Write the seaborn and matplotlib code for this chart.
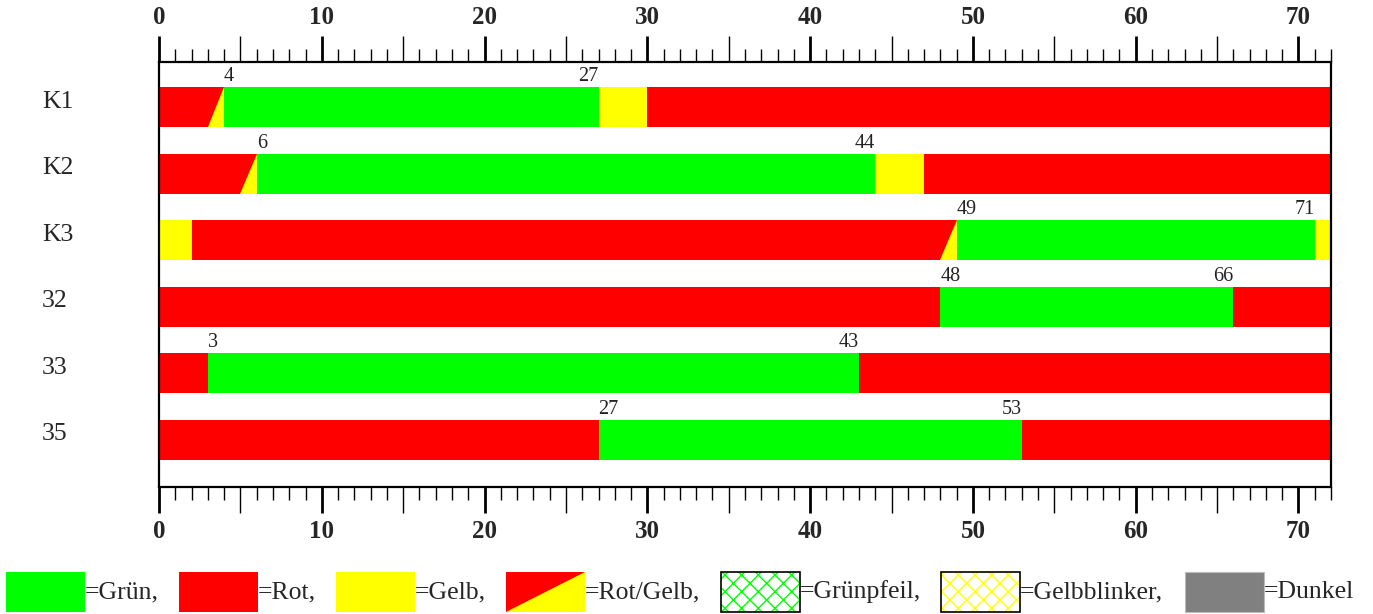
import matplotlib
matplotlib.use("Agg")
import matplotlib.pyplot as plt
import matplotlib.transforms as mtransforms
import seaborn as sns
import pandas as pd
from matplotlib.patches import Polygon, Rectangle

# ---------------- data ----------------
rows = ["K1", "K2", "K3", "32", "33", "35"]
cycle_time = 72

k1_states = ["R", "RG", "G", "Y", "R"]
k1_bounds = [0, 3, 4, 27, 30, 72]
k2_states = ["R", "RG", "G", "Y", "R"]
k2_bounds = [0, 5, 6, 44, 47, 72]
k3_states = ["Y", "R", "RG", "G", "Y"]
k3_bounds = [0, 2, 48, 49, 71, 72]
s32_states = ["R", "G", "R"]
s32_bounds = [0, 48, 66, 72]
s33_states = ["R", "G", "R"]
s33_bounds = [0, 3, 43, 72]
s35_states = ["R", "G", "R"]
s35_bounds = [0, 27, 53, 72]

green_start = [4, 6, 49, 48, 3, 27]
green_end = [27, 44, 71, 66, 43, 53]

legend_keys = ["G", "R", "Y", "RG", "GP", "GB", "D"]
legend_labels = ["=Grün,", "=Rot,", "=Gelb,", "=Rot/Gelb,", "=Grünpfeil,",
                 "=Gelbblinker,", "=Dunkel"]

# ---------------- style ----------------
colors = {"G": "#00FF00", "R": "#FF0000", "Y": "#FFFF00", "RG": "#FF0000",
          "D": "#808080"}

sns.set_style("white")
plt.rcParams["font.family"] = ["Liberation Serif", "DejaVu Serif"]
plt.rcParams["hatch.linewidth"] = 1.0

W, H = 1373, 614
fig = plt.figure(figsize=(W / 100, H / 100), dpi=100)
ax = fig.add_axes([159 / W, 1 - 487 / H, (1331 - 159) / W, (487 - 62) / H])

all_states = [k1_states, k2_states, k3_states, s32_states, s33_states, s35_states]
all_bounds = [k1_bounds, k2_bounds, k3_bounds, s32_bounds, s33_bounds, s35_bounds]

bar_h = 0.6
max_seg = max(len(s) for s in all_states)
for k in range(max_seg - 1, -1, -1):
    recs = []
    for r, st, bd in zip(rows, all_states, all_bounds):
        if len(st) > k:
            recs.append({"row": r, "end": bd[k + 1], "state": st[k]})
    df = pd.DataFrame(recs)
    pal = {rec["row"]: colors[rec["state"]] for rec in recs}
    sns.barplot(data=df, x="end", y="row", hue="row", palette=pal, order=rows,
                hue_order=list(df["row"]), orient="h", width=bar_h,
                saturation=1, legend=False, dodge=False, errorbar=None,
                linewidth=0, ax=ax)

# Rot/Gelb triangles
for i, (st, bd) in enumerate(zip(all_states, all_bounds)):
    for j, s in enumerate(st):
        if s == "RG":
            a, b = bd[j], bd[j + 1]
            ax.add_patch(Polygon([(a, i + bar_h / 2), (b, i + bar_h / 2),
                                  (b, i - bar_h / 2)], closed=True,
                                 facecolor=colors["Y"], edgecolor="none",
                                 zorder=3))

# green labels
for i, (gs, ge) in enumerate(zip(green_start, green_end)):
    ax.text(gs, i - bar_h / 2 - 0.09, str(gs), ha="left", va="baseline",
            fontsize=14.5, color="#222222")
    ax.text(ge, i - bar_h / 2 - 0.09, str(ge), ha="right", va="baseline",
            fontsize=14.5, color="#222222")

ax.set_xlim(0, cycle_time)
ax.set_ylim(5.71, -0.68)
ax.set_xlabel("")
ax.set_ylabel("")

for sp in ax.spines.values():
    sp.set_visible(True)
    sp.set_color("black")
    sp.set_linewidth(1.6)

# x ticks
major = list(range(0, cycle_time + 1, 10))
ax.set_xticks(major)
ax.set_xticklabels([str(v) for v in major], fontweight="bold", fontsize=18)
ax.set_xticks([v for v in range(0, cycle_time + 1) if v % 5 != 0], minor=True)
ax.tick_params(axis="x", which="major", top=True, bottom=True, labeltop=True,
               labelbottom=True, direction="out", length=18.7, width=2,
               color="black", pad=5)
ax.tick_params(axis="x", which="minor", top=True, bottom=True, direction="out",
               length=9.4, width=1, color="black")

fives = [v for v in range(5, cycle_time + 1, 10)]
for loc in ("top", "bottom"):
    sec = ax.secondary_xaxis(loc)
    sec.set_xticks(fives)
    sec.set_xticklabels([])
    sec.tick_params(direction="out", length=18.7, width=1, color="black")
    for sp in sec.spines.values():
        sp.set_visible(False)

# row labels
ax.set_yticks([])
lab_tr = mtransforms.blended_transform_factory(fig.transFigure, ax.transData)
for i, r in enumerate(rows):
    ax.text(42 / W, i - 0.08, r, transform=lab_tr, ha="left", va="center",
            fontsize=18.5, clip_on=False)

# ---------------- legend ----------------
lx = [6, 179, 336, 506, 721, 941, 1185]
pw, y0, y1 = 79, 572, 612
fy0, fy1 = 1 - y1 / H, 1 - y0 / H
fh = fy1 - fy0
for key, x, lab in zip(legend_keys, lx, legend_labels):
    fx0 = x / W
    fw = pw / W
    if key in ("G", "R", "Y"):
        fig.add_artist(Rectangle((fx0, fy0), fw, fh, transform=fig.transFigure,
                                 facecolor=colors[key], edgecolor="none"))
    elif key == "RG":
        fig.add_artist(Rectangle((fx0, fy0), fw, fh, transform=fig.transFigure,
                                 facecolor=colors["R"], edgecolor="none"))
        fig.add_artist(Polygon([(fx0, fy0), (fx0 + fw, fy0), (fx0 + fw, fy1)],
                               closed=True, transform=fig.transFigure,
                               facecolor=colors["Y"], edgecolor="none"))
    elif key in ("GP", "GB"):
        hc = colors["G"] if key == "GP" else colors["Y"]
        fig.add_artist(Rectangle((fx0, fy0), fw, fh, transform=fig.transFigure,
                                 facecolor="white", edgecolor=hc, hatch="xx",
                                 linewidth=0))
        fig.add_artist(Rectangle((fx0, fy0), fw, fh, transform=fig.transFigure,
                                 facecolor="none", edgecolor="black",
                                 linewidth=1.2))
    else:
        fig.add_artist(Rectangle((fx0, fy0), fw, fh, transform=fig.transFigure,
                                 facecolor=colors["D"], edgecolor="#bbbbbb",
                                 linewidth=0.8))
    fig.text((x + pw) / W, 1 - 592 / H, lab, ha="left", va="center",
             fontsize=18.5)

fig.savefig("out.png", dpi=100)
